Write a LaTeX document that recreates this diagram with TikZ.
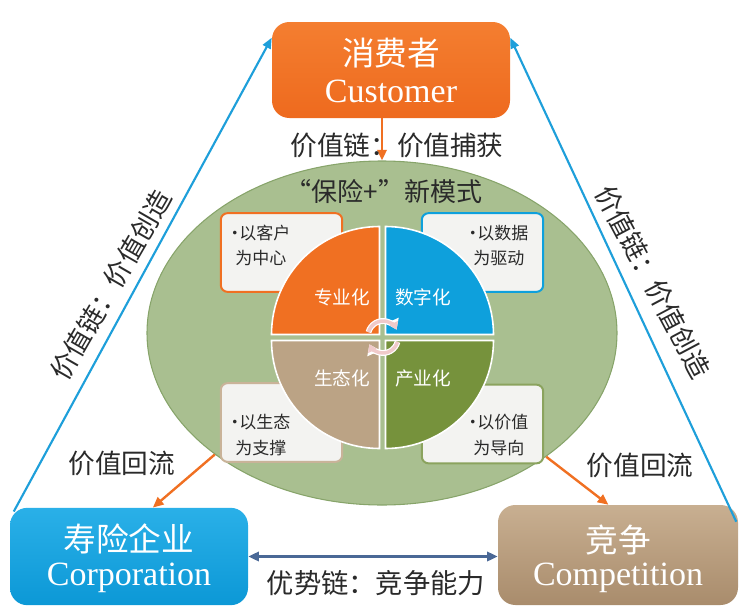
\documentclass[tikz,border=0pt]{standalone}
\usepackage{fontspec}
\setmainfont{Noto Sans CJK SC}
\newfontfamily\latinf{Liberation Serif}
\usetikzlibrary{arrows.meta,shapes.geometric,calc}
\definecolor{corange}{HTML}{EE6A1E}
\definecolor{corangeL}{HTML}{F47E30}
\definecolor{cblue}{HTML}{0C98D6}
\definecolor{cblueL}{HTML}{2AB0E8}
\definecolor{ctan}{HTML}{A98C6C}
\definecolor{ctanL}{HTML}{C8AF91}
\definecolor{qorange}{HTML}{F07022}
\definecolor{qblue}{HTML}{0EA0DC}
\definecolor{qtan}{HTML}{BBA385}
\definecolor{qgreen}{HTML}{76923C}
\definecolor{cell}{HTML}{A9BF90}
\definecolor{cellb}{HTML}{87A46A}
\definecolor{cline}{HTML}{1E9FDA}
\definecolor{cdbl}{HTML}{4A6896}
\definecolor{ctext}{HTML}{2A2A2A}
\definecolor{cpaper}{HTML}{F3F3F1}
\definecolor{btan}{HTML}{C9B399}
\definecolor{bgreen}{HTML}{8BA35E}
\definecolor{cpink}{HTML}{F0CACA}
\begin{document}
\begin{tikzpicture}[x=0.75pt,y=0.75pt,
  bigbox/.style={rectangle, rounded corners=13pt, inner sep=0pt},
  zhbig/.style={text=white, inner sep=0pt, font=\fontsize{24.5}{28}\selectfont},
  enbig/.style={text=white, inner sep=0pt, anchor=base, font=\latinf\fontsize{25.5}{28}\selectfont},
  smallbox/.style={rectangle, rounded corners=5pt, draw, line width=1.5pt, fill=cpaper, inner sep=0pt, minimum width=91pt, minimum height=59pt},
  small/.style={text=ctext, inner sep=0pt, anchor=west, font=\fontsize{12.75}{15}\selectfont},
  quad/.style={draw=white, line width=1.2pt},
  qlbl/.style={text=white, inner sep=0pt, font=\fontsize{14}{16}\selectfont},
  lbl/.style={text=ctext, inner sep=0pt, font=\fontsize{20}{24}\selectfont},
  barr/.style={draw=cline, line width=1.6pt, -{Triangle[length=8pt,width=6.5pt]}},
  oarr/.style={draw=qorange, line width=1.8pt, -{Triangle[length=8pt,width=7pt]}},
  darr/.style={draw=cdbl, line width=1.8pt, {Triangle[length=8pt,width=7pt]}-{Triangle[length=8pt,width=7pt]}},
  cycw/.style={draw=white, line width=4.4pt, -{Triangle[length=7.5pt,width=10pt]}},
  cycp/.style={draw=cpink, line width=2.6pt, -{Triangle[length=5.5pt,width=7pt]}}
]
\useasboundingbox (0,0) rectangle (744,-615);

% main boxes
\node[bigbox, top color=corangeL, bottom color=corange, minimum width=178.5pt, minimum height=72pt] (cust) at (391,-70) {};
\node[zhbig] (custzh) at (391,-53) {消费者};
\node[enbig] (custen) at (391,-102) {Customer};

\node[bigbox, top color=cblueL, bottom color=cblue, minimum width=178.5pt, minimum height=73pt] (lbox) at (129,-556.5) {};
\node[zhbig] (lboxzh) at (129,-539) {寿险企业};
\node[enbig] (lboxen) at (129,-585) {Corporation};

\node[bigbox, top color=ctanL, bottom color=ctan, minimum width=180pt, minimum height=75pt] (rbox) at (618,-555) {};
\node[zhbig] (rboxzh) at (618,-540) {竞争};
\node[enbig] (rboxen) at (618,-585) {Competition};

% ellipse
\node[ellipse, fill=cell, draw=cellb, line width=0.8pt, minimum width=352.5pt, minimum height=258pt, inner sep=0pt] (ell) at (382,-333) {};
\node[lbl, font=\fontsize{19.5}{22}\selectfont] (title) at (384,-192) {“保险+”新模式};

% small boxes
\node[smallbox, draw=qorange] (sb1) at (281.5,-252.5) {};
\node[smallbox, draw=qblue] (sb2) at (482.5,-252.5) {};
\node[smallbox, draw=btan] (sb3) at (281.5,-422.5) {};
\node[smallbox, draw=bgreen] (sb4) at (482.5,-424) {};

\node[small] (t1a) at (226,-233) {•\kern-3pt 以客户};
\node[small] (t1b) at (235,-258) {为中心};
\node[small] (t2a) at (464,-233) {•\kern-3pt 以数据};
\node[small] (t2b) at (473,-258) {为驱动};
\node[small] (t3a) at (226,-422) {•\kern-3pt 以生态};
\node[small] (t3b) at (235,-448) {为支撑};
\node[small] (t4a) at (464,-422) {•\kern-3pt 以价值};
\node[small] (t4b) at (473,-448) {为导向};

% pie quadrants
\filldraw[quad, fill=qorange] (379.5,-334.5) -- ++(-108,0) arc[start angle=180, end angle=90, radius=108] -- cycle;
\filldraw[quad, fill=qblue] (385.5,-334.5) -- ++(0,108) arc[start angle=90, end angle=0, radius=108] -- cycle;
\filldraw[quad, fill=qtan] (379.5,-340.5) -- ++(-108,0) arc[start angle=180, end angle=270, radius=108] -- cycle;
\filldraw[quad, fill=qgreen] (385.5,-340.5) -- ++(0,-108) arc[start angle=270, end angle=360, radius=108] -- cycle;

\node[qlbl] (q1) at (342,-297) {专业化};
\node[qlbl] (q2) at (423,-297) {数字化};
\node[qlbl] (q3) at (342,-378) {生态化};
\node[qlbl] (q4) at (423,-378) {产业化};

% cycle arrows
\draw[cycw] (383,-336) ++(165:15) arc[start angle=165, end angle=25, radius=15];
\draw[cycw] (383,-338) ++(-15:15) arc[start angle=-15, end angle=-155, radius=15];
\draw[cycp] (383,-336) ++(165:15) arc[start angle=165, end angle=25, radius=15];
\draw[cycp] (383,-338) ++(-15:15) arc[start angle=-15, end angle=-155, radius=15];

% connectors
\draw[oarr] (cust.south -| ell.north) -- (ell.north);
\draw[barr] ($(lbox.north west)+(4,-4)$) -- ($(cust.north west)+(0,-16)$);
\draw[barr] ($(rbox.north east)+(-2,-17)$) -- ($(cust.north east)+(0,-16)$);
\draw[oarr] (ell.216.6) -- ($(lbox.north west)!0.60!(lbox.north east)$);
\draw[oarr] (ell.323.7) -- ($(rbox.north west)!0.46!(rbox.north east)$);
\draw[darr] (lbox.east) -- (lbox.east -| rbox.west);

% labels
\node[lbl] (l1) at (397,-145) {价值链：价值捕获};
\node[lbl, rotate=60] (l2) at (111,-285) {价值链：价值创造};
\node[lbl, rotate=-62] (l3) at (653,-282) {价值链：价值创造};
\node[lbl] (l4) at (122,-463) {价值回流};
\node[lbl] (l5) at (640,-465) {价值回流};
\node[lbl, font=\fontsize{20.5}{24}\selectfont] (l6) at (376,-583) {优势链：竞争能力};
\end{tikzpicture}
\end{document}
